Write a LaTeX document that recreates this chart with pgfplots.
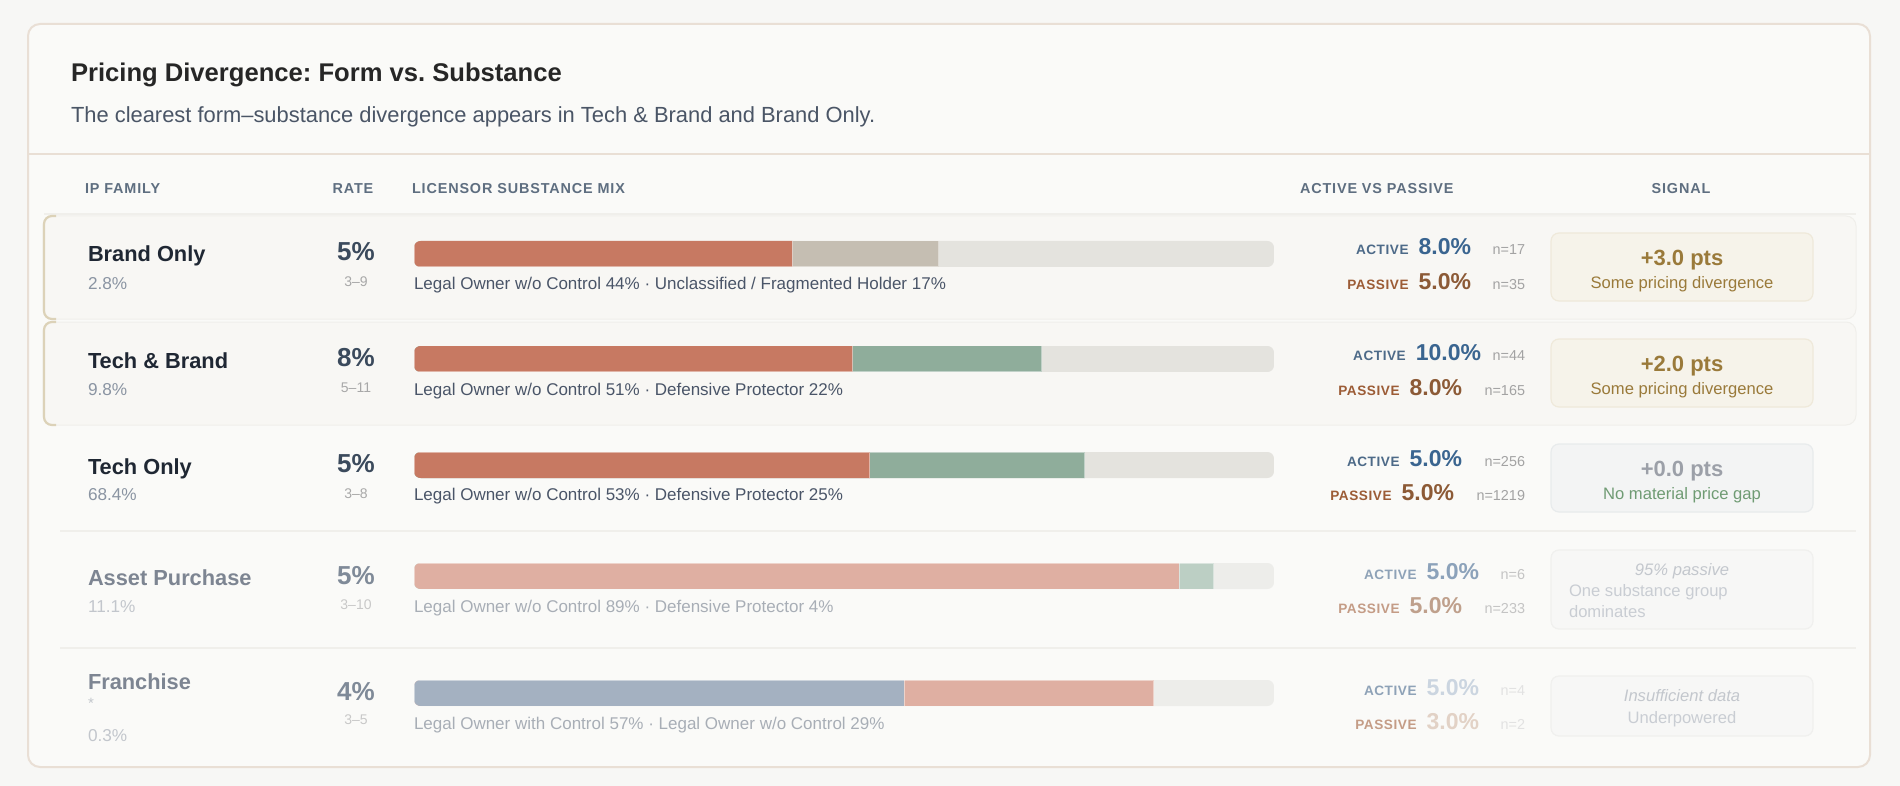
\documentclass[border=0pt]{standalone}
\usepackage{pgfplots}
\pgfplotsset{compat=1.18}
\usepackage{fontspec}
\setmainfont{Liberation Sans}
\newcommand\fz[1]{\fontsize{#1pt}{#1pt}\selectfont}
\frenchspacing
% colours
\definecolor{bgout}{HTML}{F7F7F5}
\definecolor{cardfill}{HTML}{FAFAF8}
\definecolor{cardborder}{HTML}{E9DFD5}
\definecolor{rowhl}{HTML}{F8F7F4}
\definecolor{rowline}{HTML}{F0EFEB}
\definecolor{tanborder}{HTML}{DCD2B8}
\definecolor{titlec}{HTML}{262626}
\definecolor{subc}{HTML}{4A5566}
\definecolor{headc}{HTML}{5E6E80}
\definecolor{namec}{HTML}{1F2733}
\definecolor{subpct}{HTML}{8A94A2}
\definecolor{ratec}{HTML}{3B4A5C}
\definecolor{rangec}{HTML}{A8A8A8}
\definecolor{labelc}{HTML}{4A5568}
\definecolor{fname}{HTML}{7D8592}
\definecolor{fsub}{HTML}{C2C6CC}
\definecolor{frate}{HTML}{7F8A98}
\definecolor{frange}{HTML}{C8C8C8}
\definecolor{flabel}{HTML}{A8AEB6}
\definecolor{actL}{HTML}{4D6A88}
\definecolor{actV}{HTML}{3A6590}
\definecolor{pasL}{HTML}{9C5C36}
\definecolor{pasV}{HTML}{8C5A36}
\definecolor{nc}{HTML}{A3A3A3}
\definecolor{factL}{HTML}{8EA2B7}
\definecolor{factV}{HTML}{8CA2BA}
\definecolor{fpasL}{HTML}{C49C86}
\definecolor{fpasV}{HTML}{BFA08C}
\definecolor{fn}{HTML}{C4C4C4}
\definecolor{ffactV}{HTML}{CBD5E0}
\definecolor{ffpasV}{HTML}{E2D2C6}
\definecolor{ffn}{HTML}{E2E2E2}
\definecolor{gold}{HTML}{9A7A3A}
\definecolor{goldfill}{HTML}{F6F3EA}
\definecolor{goldborder}{HTML}{EFE9DA}
\definecolor{zerofill}{HTML}{F3F4F4}
\definecolor{zeroborder}{HTML}{E8EBEC}
\definecolor{zeroc}{HTML}{9CA0A8}
\definecolor{greenc}{HTML}{6F9B73}
\definecolor{faintfill}{HTML}{F7F7F6}
\definecolor{faintborder}{HTML}{F0F0EE}
\definecolor{faintit}{HTML}{C3C7CD}
\definecolor{faintbody}{HTML}{C9CDD3}
% bar colours
\definecolor{redseg}{HTML}{C77962}
\definecolor{tanseg}{HTML}{C5BEB2}
\definecolor{trackA}{HTML}{E4E3DE}
\definecolor{greenseg}{HTML}{8FAD9B}
\definecolor{redlight}{HTML}{DFAFA2}
\definecolor{greenlight}{HTML}{BCCFC4}
\definecolor{trackB}{HTML}{EDEDEA}
\definecolor{bluegray}{HTML}{A4B1C1}
\begin{document}
\begin{tikzpicture}[every node/.style={inner sep=0pt, outer sep=0pt}]
\begin{scope}[x=0.5pt,y=-0.5pt]
\fill[bgout] (0,0) rectangle (1900,786);
\useasboundingbox (0,0) rectangle (1900,786);
% card
\draw[cardborder, line width=1pt, fill=cardfill, rounded corners=6pt] (28,24) rectangle (1870,767);
\draw[cardborder, line width=1pt] (28,154) -- (1870,154);
% title
\node[anchor=base west, font=\fz{12.8}\bfseries, text=titlec] at (71,82) {Pricing Divergence: Form vs. Substance};
\node[anchor=base west, font=\fz{10.95}, text=subc] at (71,123) {The clearest form–substance divergence appears in Tech \& Brand and Brand Only.};
% column headers
\begin{scope}[every node/.append style={font=\fz{7.2}\bfseries\addfontfeature{LetterSpace=6}, text=headc}]
\node[anchor=base west] at (85,194) {IP FAMILY};
\node[anchor=base] at (353,194) {RATE};
\node[anchor=base west] at (412,194) {LICENSOR SUBSTANCE MIX};
\node[anchor=base west] at (1300,194) {ACTIVE VS PASSIVE};
\node[anchor=base] at (1681,194) {SIGNAL};
\end{scope}
\draw[rowline, line width=0.6pt] (44,214) -- (1856,214);
% highlighted rows
\draw[rowline, line width=0.5pt, fill=rowhl, rounded corners=5pt] (43,216) rectangle (1856,319);
\draw[rowline, line width=0.5pt, fill=rowhl, rounded corners=5pt] (43,322) rectangle (1856,425);
\draw[tanborder, line width=1.1pt, rounded corners=4pt] (56,216) -- (44,216) -- (44,319) -- (56,319);
\draw[tanborder, line width=1.1pt, rounded corners=4pt] (56,322) -- (44,322) -- (44,425) -- (56,425);
\draw[rowline, line width=0.6pt] (60,531) -- (1856,531);
\draw[rowline, line width=0.6pt] (60,648) -- (1856,648);
\end{scope}
% bars
\begin{scope}
\clip[rounded corners=3.3pt] (207pt,-120.5pt) rectangle (637pt,-133.5pt)
  (207pt,-173pt) rectangle (637pt,-186pt) (207pt,-226pt) rectangle (637pt,-239pt)
  (207pt,-281.5pt) rectangle (637pt,-294.5pt) (207pt,-340pt) rectangle (637pt,-353pt);
\begin{axis}[at={(207pt,-393pt)}, anchor=south west, scale only axis,
  width=430pt, height=393pt, xmin=0, xmax=100, ymin=-786, ymax=0,
  hide axis, clip=false,
  every axis plot/.append style={xbar, bar shift=0pt, bar width=26, draw=none},
  seg/.style={draw=white, draw opacity=0.45, line width=0.5pt}]
\addplot[fill=trackA] coordinates {(100,-254) (100,-359) (100,-465)};
\addplot[fill=trackB] coordinates {(100,-576) (100,-693)};
\addplot[seg, fill=tanseg] coordinates {(61,-254)};
\addplot[seg, fill=greenseg] coordinates {(73,-359) (78,-465)};
\addplot[seg, fill=greenlight] coordinates {(93,-576)};
\addplot[seg, fill=redlight] coordinates {(86,-693)};
\addplot[seg, fill=redseg] coordinates {(44,-254) (51,-359) (53,-465)};
\addplot[seg, fill=redlight] coordinates {(89,-576)};
\addplot[seg, fill=bluegray] coordinates {(57,-693)};
\end{axis}
\end{scope}
\begin{scope}[x=0.5pt,y=-0.5pt]
% ---- IP family names
\begin{scope}[every node/.append style={anchor=base west}]
\node[font=\fz{10.9}\bfseries, text=namec] at (88,262) {Brand Only};
\node[font=\fz{8.6}, text=subpct] at (88,290) {2.8\%};
\node[font=\fz{10.9}\bfseries, text=namec] at (88,368) {Tech \& Brand};
\node[font=\fz{8.6}, text=subpct] at (88,395) {9.8\%};
\node[font=\fz{10.9}\bfseries, text=namec] at (88,474) {Tech Only};
\node[font=\fz{8.6}, text=subpct] at (88,500) {68.4\%};
\node[font=\fz{10.9}\bfseries, text=fname] at (88,585) {Asset Purchase};
\node[font=\fz{8.6}, text=fsub] at (88,612) {11.1\%};
\node[font=\fz{10.9}\bfseries, text=fname] at (88,689) {Franchise};
\node[font=\fz{7.5}, text=fsub] at (88,708) {*};
\node[font=\fz{8.6}, text=fsub] at (88,741) {0.3\%};
\end{scope}
% ---- rates
\begin{scope}[every node/.append style={anchor=base}]
\node[font=\fz{13}\bfseries, text=ratec] at (356,261) {5\%};
\node[font=\fz{7}, text=rangec] at (356,286) {3–9};
\node[font=\fz{13}\bfseries, text=ratec] at (356,366) {8\%};
\node[font=\fz{7}, text=rangec] at (356,392) {5–11};
\node[font=\fz{13}\bfseries, text=ratec] at (356,472) {5\%};
\node[font=\fz{7}, text=rangec] at (356,498) {3–8};
\node[font=\fz{13}\bfseries, text=frate] at (356,584) {5\%};
\node[font=\fz{7}, text=frange] at (356,609) {3–10};
\node[font=\fz{13}\bfseries, text=frate] at (356,700) {4\%};
\node[font=\fz{7}, text=frange] at (356,724) {3–5};
\end{scope}
% ---- bar labels
\begin{scope}[every node/.append style={anchor=base west, font=\fz{8.5}}]
\node[text=labelc] at (414,290) {Legal Owner w/o Control 44\% · Unclassified / Fragmented Holder 17\%};
\node[text=labelc] at (414,395) {Legal Owner w/o Control 51\% · Defensive Protector 22\%};
\node[text=labelc] at (414,500) {Legal Owner w/o Control 53\% · Defensive Protector 25\%};
\node[text=flabel] at (414,612) {Legal Owner w/o Control 89\% · Defensive Protector 4\%};
\node[text=flabel] at (414,729) {Legal Owner with Control 57\% · Legal Owner w/o Control 29\%};
\end{scope}
% ---- active vs passive
\newcommand\apline[8]{% y, value-right-x, label, labelcolor, value, valuecolor, n, ncolor
  \node[anchor=base east, font=\fz{11.5}\bfseries, text=#6] (v) at (#2,#1) {#5};
  \node[anchor=base east, font=\fz{6.8}\bfseries\addfontfeature{LetterSpace=4}, text=#4] at ([xshift=-5pt]v.base west) {#3};
  \node[anchor=base east, font=\fz{7.2}, text=#8] at (1525,#1) {#7};}
\apline{255}{1471}{ACTIVE}{actL}{8.0\%}{actV}{n=17}{nc}
\apline{290}{1471}{PASSIVE}{pasL}{5.0\%}{pasV}{n=35}{nc}
\apline{360}{1481}{ACTIVE}{actL}{10.0\%}{actV}{n=44}{nc}
\apline{395}{1462}{PASSIVE}{pasL}{8.0\%}{pasV}{n=165}{nc}
\apline{466}{1462}{ACTIVE}{actL}{5.0\%}{actV}{n=256}{nc}
\apline{500}{1454}{PASSIVE}{pasL}{5.0\%}{pasV}{n=1219}{nc}
\apline{579}{1479}{ACTIVE}{factL}{5.0\%}{factV}{n=6}{fn}
\apline{613}{1462}{PASSIVE}{fpasL}{5.0\%}{fpasV}{n=233}{fn}
\apline{695}{1479}{ACTIVE}{factL}{5.0\%}{ffactV}{n=4}{ffn}
\apline{729}{1479}{PASSIVE}{fpasL}{3.0\%}{ffpasV}{n=2}{ffn}
% ---- signal boxes
\draw[goldborder, line width=0.6pt, fill=goldfill, rounded corners=4pt] (1551,233) rectangle (1813,301);
\draw[goldborder, line width=0.6pt, fill=goldfill, rounded corners=4pt] (1551,339) rectangle (1813,407);
\draw[zeroborder, line width=0.6pt, fill=zerofill, rounded corners=4pt] (1551,444) rectangle (1813,512);
\draw[faintborder, line width=0.6pt, fill=faintfill, rounded corners=4pt] (1551,550) rectangle (1813,629);
\draw[faintborder, line width=0.6pt, fill=faintfill, rounded corners=4pt] (1551,676) rectangle (1813,736);
\begin{scope}[every node/.append style={anchor=base}]
\node[font=\fz{11}\bfseries, text=gold] at (1682,265) {+3.0 pts};
\node[font=\fz{8.3}, text=gold] at (1682,288) {Some pricing divergence};
\node[font=\fz{11}\bfseries, text=gold] at (1682,371) {+2.0 pts};
\node[font=\fz{8.3}, text=gold] at (1682,394) {Some pricing divergence};
\node[font=\fz{11}\bfseries, text=zeroc] at (1682,476) {+0.0 pts};
\node[font=\fz{8.3}, text=greenc] at (1682,499) {No material price gap};
\node[font=\fz{8.3}\itshape, text=faintit] at (1682,575) {95\% passive};
\node[font=\fz{8.3}\itshape, text=faintit] at (1682,701) {Insufficient data};
\node[font=\fz{8.3}, text=faintbody] at (1682,723) {Underpowered};
\end{scope}
\node[anchor=base west, font=\fz{8.3}, text=faintbody] at (1569,596) {One substance group};
\node[anchor=base west, font=\fz{8.3}, text=faintbody] at (1569,617) {dominates};
\end{scope}
\end{tikzpicture}
\end{document}
